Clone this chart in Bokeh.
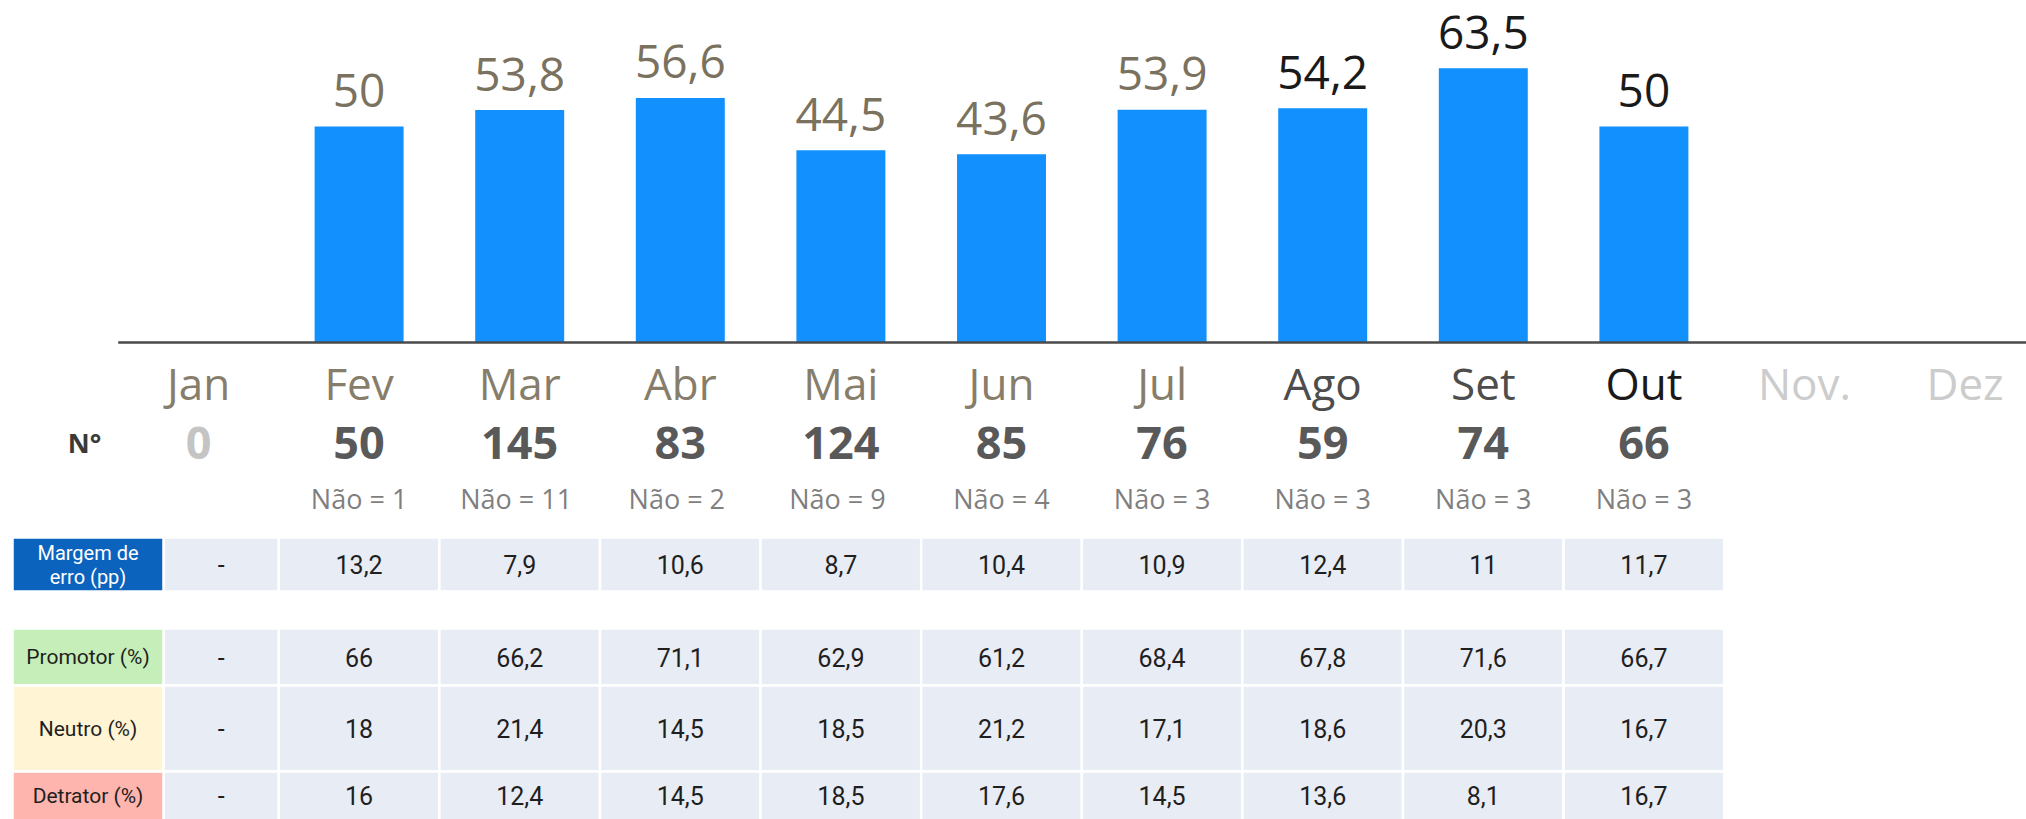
from bokeh.plotting import figure
from bokeh.models import Range1d, ColumnDataSource
from bokeh.core.properties import value
from bokeh.embed import file_html
from bokeh.resources import INLINE

# ---------------- data ----------------
months = ["Jan", "Fev", "Mar", "Abr", "Mai", "Jun", "Jul", "Ago", "Set", "Out", "Nov.", "Dez"]
nps = [None, 50, 53.8, 56.6, 44.5, 43.6, 53.9, 54.2, 63.5, 50, None, None]
n_resp = [0, 50, 145, 83, 124, 85, 76, 59, 74, 66]
nao = ["", "Não = 1", "Não =  11", "Não =  2", "Não =  9", "Não = 4", "Não = 3", "Não = 3", "Não = 3", "Não = 3"]
margem = [None, 13.2, 7.9, 10.6, 8.7, 10.4, 10.9, 12.4, 11, 11.7]
promotor = [None, 66, 66.2, 71.1, 62.9, 61.2, 68.4, 67.8, 71.6, 66.7]
neutro = [None, 18, 21.4, 14.5, 18.5, 21.2, 17.1, 18.6, 20.3, 16.7]
detrator = [None, 16, 12.4, 14.5, 18.5, 17.6, 14.5, 13.6, 8.1, 16.7]
row_labels = ["Margem de erro (pp)", "Promotor (%)", "Neutro (%)", "Detrator (%)"]

# ---------------- styling / layout ----------------
W, H = 2026, 819
X0_PX, DX_PX = 198.0, 160.6          # pixel centre of first month, pixel per month
BASE_PX, PX_PER_UNIT = 342.0, 4.32    # baseline pixel row, pixels per NPS point
BAR_BLUE = "#1190FE"
month_colors = ["#877D6B"] * 7 + ["#4D4D4D", "#4D4D4D", "#1A1A1A", "#CCCCCC", "#CCCCCC"]
value_colors = ["#7A715E"] * 7 + ["#1A1A1A"] * 5
n_colors = ["#C4C4C4"] + ["#595959"] * 9
MONTH_Y, N_Y, NAO_Y = 382, 442, 498
# table rows: (top px, bottom px, label fill, label text colour)
row_layout = [
    (537, 591, "#0B63BE", "#FFFFFF"),
    (628, 685, "#C6EEB8", "#1F1F1F"),
    (685, 771, "#FFF4D4", "#1F1F1F"),
    (771, 822, "#FDB5AD", "#1F1F1F"),
]
LABEL_COL = (-1.158, -0.218)   # label column, in month units
CELL_FILL = "#E8ECF4"

def fmt(v):
    return "-" if v is None else f"{v:g}".replace(".", ",")

p = figure(width=W, height=H,
           x_range=Range1d(-X0_PX / DX_PX, (W - X0_PX) / DX_PX),
           y_range=Range1d(-(H - BASE_PX) / PX_PER_UNIT, BASE_PX / PX_PER_UNIT),
           output_backend="svg", toolbar_location=None, min_border=0)
p.extra_y_ranges = {"px": Range1d(H, 0)}
p.extra_x_ranges = {"px": Range1d(0, W)}
p.axis.visible = False
p.grid.visible = False
p.outline_line_color = None
p.background_fill_color = "white"
p.border_fill_color = "white"

idx = list(range(len(months)))

# ---------------- bars ----------------
bx = [i for i, v in zip(idx, nps) if v is not None]
bt = [v for v in nps if v is not None]
bsrc = ColumnDataSource(dict(x=bx, top=bt,
                             lab=[fmt(v) for v in bt],
                             col=[value_colors[i] for i in bx]))
p.vbar(x="x", top="top", bottom=0, width=0.554, source=bsrc,
       fill_color=BAR_BLUE, line_color=None)
p.text(x="x", y="top", text="lab", source=bsrc, text_color="col",
       text_align="center", text_baseline="alphabetic", y_offset=-36,
       text_font=value("Open Sans"), text_font_size="46px")

# baseline
p.segment(x0=[-0.5], y0=[0], x1=[p.x_range.end], y1=[0],
          line_color="#4A4A4A", line_width=2.5)

# month labels
msrc = ColumnDataSource(dict(x=idx, y=[MONTH_Y] * len(months), t=months, c=month_colors))
p.text(x="x", y="y", text="t", source=msrc, y_range_name="px", text_color="c",
       text_align="center", text_baseline="middle",
       text_font=value("Open Sans"), text_font_size="44px")

# N row
p.text(x=[84], y=[N_Y], text=["N°"], x_range_name="px", y_range_name="px",
       text_color="#3A3A3A", text_align="center", text_baseline="middle",
       text_font=value("Open Sans"), text_font_style="bold", text_font_size="27px")
nidx = idx[:len(n_resp)]
nsrc = ColumnDataSource(dict(x=nidx, y=[N_Y] * len(nidx), t=[str(v) for v in n_resp], c=n_colors))
p.text(x="x", y="y", text="t", source=nsrc, y_range_name="px", text_color="c",
       text_align="center", text_baseline="middle",
       text_font=value("Open Sans"), text_font_style="bold", text_font_size="45px")
asrc = ColumnDataSource(dict(x=nidx, y=[NAO_Y] * len(nidx), t=nao))
p.text(x="x", y="y", text="t", source=asrc, y_range_name="px", text_color="#7F7F7F",
       text_align="center", text_baseline="middle",
       text_font=value("Open Sans"), text_font_size="27px")

# ---------------- table ----------------
table_rows = [margem, promotor, neutro, detrator]
for (top, bot, lfill, ltxt), vals, lab in zip(row_layout, table_rows, row_labels):
    ncol = len(vals)
    lefts = [LABEL_COL[1] if i == 0 else i - 0.5 for i in range(ncol)]
    rights = [i + 0.5 for i in range(ncol)]
    p.quad(left=lefts, right=rights, top=[top] * ncol, bottom=[bot] * ncol,
           y_range_name="px", fill_color=CELL_FILL, line_color="white", line_width=2.5)
    p.quad(left=[LABEL_COL[0]], right=[LABEL_COL[1]], top=[top], bottom=[bot],
           y_range_name="px", fill_color=lfill, line_color="white", line_width=2.5)
    cy = (top + min(bot, H)) / 2
    cx = [(l + r) / 2 for l, r in zip(lefts, rights)]
    p.text(x=cx, y=[cy] * ncol, text=[fmt(v) for v in vals], y_range_name="px",
           text_color="#1F1F1F", text_align="center", text_baseline="middle",
           text_font=value("Roboto"), text_font_size="25px")
    lx = (LABEL_COL[0] + LABEL_COL[1]) / 2
    if lab.startswith("Margem"):
        p.text(x=[lx, lx], y=[cy - 12, cy + 12], text=["Margem de", "erro (pp)"],
               y_range_name="px", text_color=ltxt, text_align="center",
               text_baseline="middle", text_font=value("Roboto"), text_font_size="20px")
    else:
        p.text(x=[lx], y=[cy], text=[lab], y_range_name="px", text_color=ltxt,
               text_align="center", text_baseline="middle",
               text_font=value("Roboto"), text_font_size="21px")

open("out.html", "w").write(file_html(p, INLINE))
